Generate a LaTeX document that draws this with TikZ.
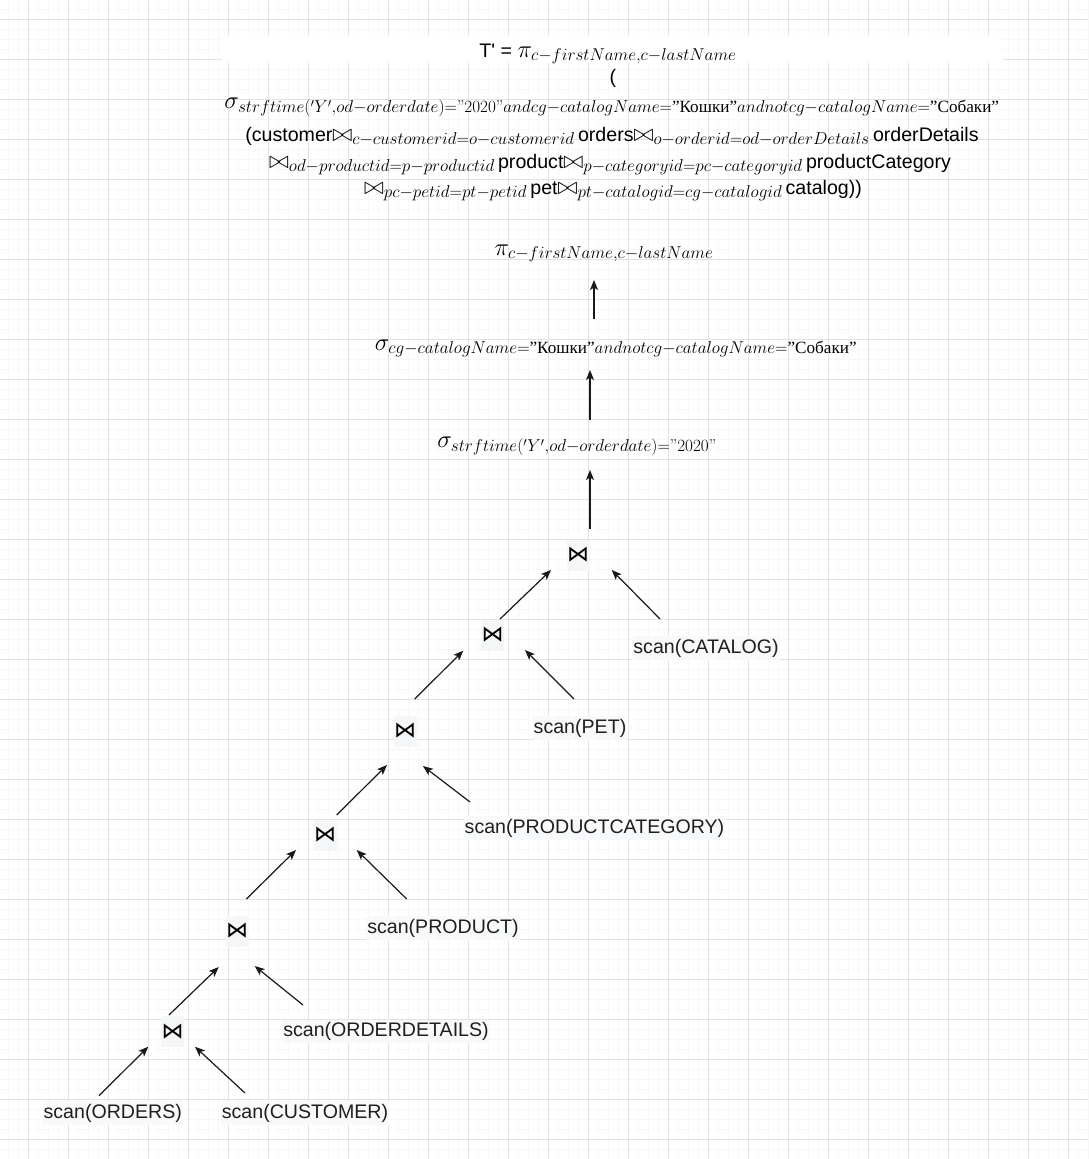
\RequirePackage{fix-cm}
\documentclass[tikz,border=0pt]{standalone}
\usepackage{amsmath}
\usepackage[no-math]{fontspec}
\setmainfont{Liberation Sans}[Ligatures=TeXOff]
\newfontfamily\cyrf{Liberation Serif}
\newfontfamily\lmr{Latin Modern Roman}
\newfontfamily\symf{DejaVu Sans}
\usetikzlibrary{arrows.meta}

\definecolor{joinbg}{RGB}{244,246,248}
\definecolor{labelbg}{RGB}{248,249,250}
\definecolor{gridmajor}{RGB}{226,226,226}
\definecolor{gridminor}{RGB}{247,247,247}

% sans text at label size, usable inside math
\newcommand\st[1]{\mbox{\fontsize{19.6}{24}\selectfont #1}}

\begin{document}
\begin{tikzpicture}[x=1pt,y=-1pt,
  minorline/.style={draw=gridminor,line width=0.8pt},
  majorline/.style={draw=gridmajor,line width=0.9pt},
  mathlbl/.style={inner sep=0pt,anchor=base,font=\fontsize{24.5}{29}\selectfont},
  joinnode/.style={fill=joinbg,minimum width=23pt,minimum height=31pt,inner sep=0pt,
                   font=\symf\fontsize{22}{22}\selectfont},
  scanlbl/.style={fill=labelbg,inner xsep=1pt,inner ysep=2.5pt,
                  font=\fontsize{19.6}{24}\selectfont,text=black!88},
  conn/.style={draw=black!90,line width=1.2pt,
               -{Stealth[length=10pt,width=8pt,inset=2.5pt]}}]

\useasboundingbox (0,0) rectangle (1088,1159);
\fill[white] (0,0) rectangle (1088,1159);

% background grid
\foreach \i in {0,...,108} \draw[minorline] ({8.3+10*\i},0) -- ++(0,1159);
\foreach \i in {0,...,115} \draw[minorline] (0,{9.3+10*\i}) -- ++(1088,0);
\foreach \i in {0,...,26} \draw[majorline] ({28.3+40*\i},0) -- ++(0,1159);
\foreach \i in {0,...,28} \draw[majorline] (0,{19.3+40*\i}) -- ++(1088,0);

% full query expression
\fill[white] (222,35) rectangle (1003,63);
\node[mathlbl] (f1) at (608,57) {\st{T' = }$\pi_{c-firstName,c-lastName}$};
\node[mathlbl] (f2) at (613,83) {\st{(}};
\node[mathlbl] (f3) at (612,108) {$\sigma_{strftime('Y',od-orderdate)=\text{\lmr ”2020”}andcg-catalogName=\text{\cyrf ”Кошки”}andnotcg-catalogName=\text{\cyrf ”Собаки”}}$};
\node[mathlbl] (f4) at (612,141) {\st{(customer}$\bowtie_{c-customerid=o-customerid}$\st{\,orders}$\bowtie_{o-orderid=od-orderDetails}$\st{\,orderDetails}};
\node[mathlbl] (f5) at (610,168) {$\bowtie_{od-productid=p-productid}$\st{\,product}$\bowtie_{p-categoryid=pc-categoryid}$\st{\,productCategory}};
\node[mathlbl] (f6) at (613,194) {$\bowtie_{pc-petid=pt-petid}$\st{\,pet}$\bowtie_{pt-catalogid=cg-catalogid}$\st{\,catalog))}};

% operator tree
\node[mathlbl] (pi) at (604,255) {$\pi_{c-firstName,c-lastName}$};
\node[mathlbl] (selcat) at (616,350) {$\sigma_{cg-catalogName=\text{\cyrf ”Кошки”}andnotcg-catalogName=\text{\cyrf ”Собаки”}}$};
\node[mathlbl] (seldate) at (577,447) {$\sigma_{strftime('Y',od-orderdate)=\text{\lmr ”2020”}}$};

\node[joinnode] (j1) at (578,555) {⋈};
\node[joinnode] (j2) at (492.7,635) {⋈};
\node[joinnode] (j3) at (405,731) {⋈};
\node[joinnode] (j4) at (325,835) {⋈};
\node[joinnode] (j5) at (237,931) {⋈};
\node[joinnode] (j6) at (172.7,1031.7) {⋈};

\node[scanlbl] (scat) at (706,648) {scan(CATALOG)};
\node[scanlbl] (spet) at (580,728) {scan(PET)};
\node[scanlbl] (spc) at (594.5,828) {scan(PRODUCTCATEGORY)};
\node[scanlbl] (sprod) at (443,928) {scan(PRODUCT)};
\node[scanlbl] (sod) at (386,1031.7) {scan(ORDERDETAILS)};
\node[scanlbl] (sord) at (112.8,1113) {scan(ORDERS)};
\node[scanlbl] (scus) at (305,1113) {scan(CUSTOMER)};

% data flow, bottom to top
\draw[conn] ([shift={(13,-27)}]seldate.base) -- ([shift={(-26,20)}]selcat.base);
\draw[conn] ([shift={(-22,-31)}]selcat.base) -- ([shift={(-10,25)}]pi.base);
\draw[conn] ([shift={(12,-26)}]j1.center) -- ([shift={(13,23)}]seldate.base);

\draw[conn] ([shift={(-46,-29)}]scat.center) -- ([shift={(33.7,15)}]j1.center);
\draw[conn] ([shift={(7.3,-16)}]j2.center) -- ([shift={(-27,15)}]j1.center);

\draw[conn] ([shift={(-6,-29)}]spet.center) -- ([shift={(32.3,15)}]j2.center);
\draw[conn] ([shift={(9.7,-32)}]j3.center) -- ([shift={(-29.4,15.7)}]j2.center);

\draw[conn] ([shift={(-124.5,-26)}]spc.center) -- ([shift={(18,35)}]j3.center);
\draw[conn] ([shift={(11.7,-20)}]j4.center) -- ([shift={(-18,34)}]j3.center);

\draw[conn] ([shift={(-36.3,-29)}]sprod.center) -- ([shift={(31.7,15)}]j4.center);
\draw[conn] ([shift={(9.4,-32)}]j5.center) -- ([shift={(-29,15)}]j4.center);

\draw[conn] ([shift={(-83,-26.7)}]sod.center) -- ([shift={(17.7,35)}]j5.center);
\draw[conn] ([shift={(-3.7,-16.7)}]j6.center) -- ([shift={(-18.3,36)}]j5.center);

\draw[conn] ([shift={(-13.8,-17.3)}]sord.center) -- ([shift={(-24.4,15)}]j6.center);
\draw[conn] ([shift={(-60,-20)}]scus.center) -- ([shift={(22.3,15)}]j6.center);
\end{tikzpicture}
\end{document}
